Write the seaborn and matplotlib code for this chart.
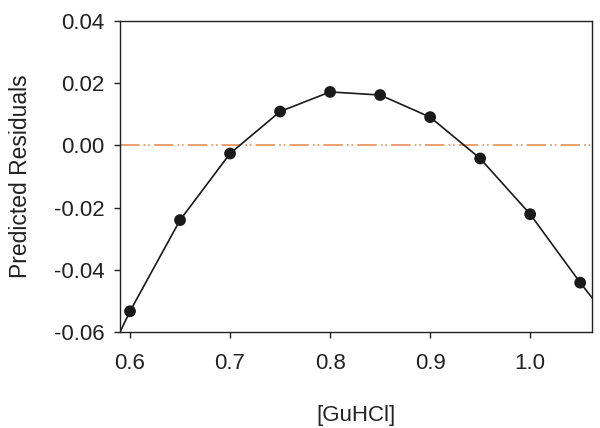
import pandas as pd
import matplotlib
matplotlib.use("Agg")
import matplotlib.pyplot as plt
import seaborn as sns
from matplotlib.ticker import FormatStrFormatter

# data
guhcl = [0.60, 0.65, 0.70, 0.75, 0.80, 0.85, 0.90, 0.95, 1.00, 1.05]
residuals = [-0.0533, -0.0240, -0.0026, 0.0109, 0.0172, 0.0162, 0.0091, -0.0042, -0.0221, -0.0441]

# fitted curve runs past the points to the frame edges
curve_x = [0.59, 0.60, 0.65, 0.70, 0.75, 0.80, 0.85, 0.90, 0.95, 1.00, 1.05, 1.062]
curve_y = [-0.0600, -0.0533, -0.0240, -0.0026, 0.0109, 0.0172, 0.0162, 0.0091, -0.0042, -0.0221, -0.0441, -0.0490]

x_ticks = [0.6, 0.7, 0.8, 0.9, 1.0]
y_ticks = [-0.06, -0.04, -0.02, 0.00, 0.02, 0.04]

sns.set_theme(style="ticks")
plt.rcParams["font.family"] = ["Liberation Sans", "DejaVu Sans"]
plt.rcParams["axes.unicode_minus"] = False
plt.rcParams["lines.scale_dashes"] = False

df_pts = pd.DataFrame({"x": guhcl, "y": residuals})
df_fit = pd.DataFrame({"x": curve_x, "y": curve_y})

fig = plt.figure(figsize=(6, 4.28), dpi=100)
ax = fig.add_axes([0.2, 0.224, 0.787, 0.727])

ax.axhline(0, color="#E9A06C", lw=1.4, ls=(0, (14, 3, 1.2, 2, 1.2, 3)), zorder=1)
sns.lineplot(data=df_fit, x="x", y="y", ax=ax, color="#1a1a1a", lw=1.2, sort=False, zorder=2)
sns.scatterplot(data=df_pts, x="x", y="y", ax=ax, color="#1a1a1a", s=72, edgecolor="none", zorder=3)

ax.set_xlim(0.59, 1.062)
ax.set_ylim(-0.06, 0.04)
ax.set_xticks(x_ticks)
ax.set_yticks(y_ticks)
ax.xaxis.set_major_formatter(FormatStrFormatter("%.1f"))
ax.yaxis.set_major_formatter(FormatStrFormatter("%.2f"))
ax.tick_params(axis="both", labelsize=16, length=4, width=1, color="#222222", labelcolor="#222222")
ax.tick_params(axis="x", pad=11)
ax.tick_params(axis="y", pad=7)
for s in ax.spines.values():
    s.set_visible(True)
    s.set_linewidth(1.0)
    s.set_color("#222222")

ax.set_xlabel("[GuHCl]", fontsize=16, labelpad=22, color="#222222")
ax.set_ylabel("Predicted Residuals", fontsize=16.5, labelpad=16, color="#222222")

plt.savefig("out.png", dpi=100)
plt.close()
